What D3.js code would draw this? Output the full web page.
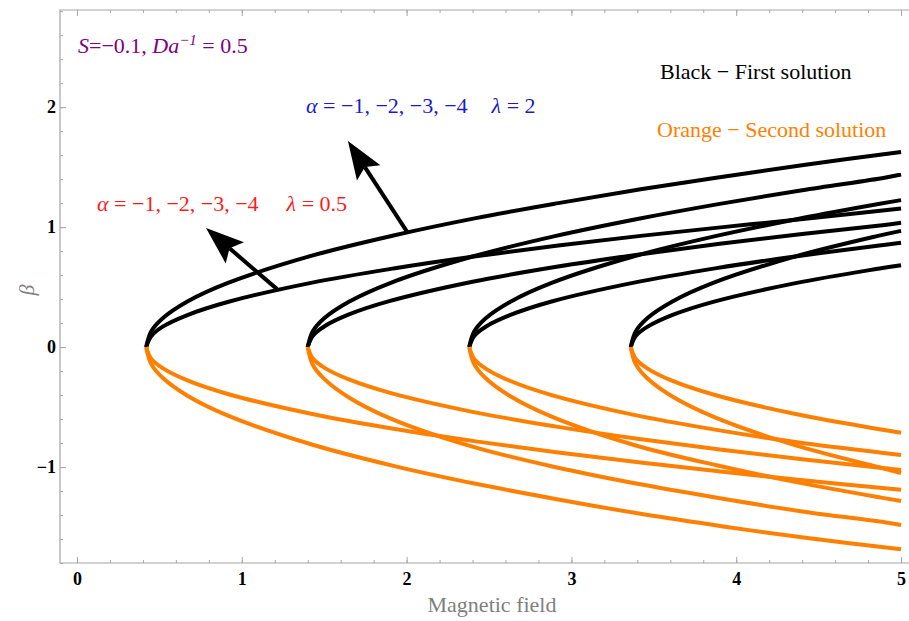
<!DOCTYPE html>
<html>
<head>
<meta charset="utf-8">
<script src="https://cdn.jsdelivr.net/npm/d3@7"></script>
<style>
  body { margin: 0; background: #fff; }
  text { font-family: "Liberation Serif", "Times New Roman", serif; }
</style>
</head>
<body>
<svg></svg>
<script>
var width = 909;
var height = 621;

// first solution (black) branches, [magnetic field, beta]
var upperA1L2 = [[0.42,0],[0.45,0.13],[0.52,0.24],[0.67,0.38],[0.92,0.537],[1.42,0.76],[1.92,0.93],[2.42,1.075],[2.92,1.2],[3.42,1.316],[3.92,1.42],[4.42,1.52],[5,1.627]];
var upperA1L05 = [[0.42,0],[0.45,0.09],[0.52,0.17],[0.67,0.267],[0.92,0.378],[1.42,0.535],[1.92,0.655],[2.42,0.757],[2.92,0.846],[3.42,0.927],[3.92,1.0],[4.42,1.07],[5,1.156]];
var upperA2L2 = [[1.4,0],[1.43,0.13],[1.5,0.24],[1.65,0.378],[1.9,0.534],[2.4,0.755],[2.9,0.925],[3.4,1.068],[3.9,1.194],[4.4,1.308],[4.9,1.412],[5,1.439]];
var upperA2L05 = [[1.4,0],[1.43,0.093],[1.5,0.172],[1.65,0.272],[1.9,0.385],[2.4,0.545],[2.9,0.667],[3.4,0.77],[3.9,0.861],[4.4,0.943],[4.9,1.018],[5,1.036]];
var upperA3L2 = [[2.38,0],[2.41,0.13],[2.48,0.24],[2.63,0.378],[2.88,0.535],[3.38,0.757],[3.88,0.927],[4.38,1.07],[4.88,1.197],[5,1.225]];
var upperA3L05 = [[2.38,0],[2.41,0.093],[2.48,0.17],[2.63,0.268],[2.88,0.38],[3.38,0.537],[3.88,0.658],[4.38,0.76],[4.88,0.849],[5,0.869]];
var upperA4L2 = [[3.36,0],[3.39,0.13],[3.46,0.24],[3.61,0.378],[3.86,0.535],[4.36,0.756],[4.86,0.927],[5,0.969]];
var upperA4L05 = [[3.36,0],[3.39,0.092],[3.46,0.168],[3.61,0.266],[3.86,0.377],[4.36,0.533],[4.86,0.653],[5,0.683]];

// second solution (orange) branches
var lowerA1a = [[0.42,0],[0.45,-0.096],[0.52,-0.176],[0.67,-0.278],[0.92,-0.393],[1.42,-0.556],[1.92,-0.681],[2.42,-0.786],[2.92,-0.879],[3.42,-0.963],[3.92,-1.04],[4.42,-1.112],[5,-1.19]];
var lowerA1b = [[0.42,0],[0.45,-0.14],[0.52,-0.256],[0.67,-0.405],[0.92,-0.573],[1.42,-0.81],[1.92,-0.99],[2.42,-1.14],[2.92,-1.27],[3.42,-1.39],[3.92,-1.495],[4.42,-1.59],[5,-1.686]];
var lowerA2a = [[1.4,0],[1.43,-0.093],[1.5,-0.171],[1.65,-0.27],[1.9,-0.382],[2.4,-0.54],[2.9,-0.661],[3.4,-0.764],[3.9,-0.854],[4.4,-0.935],[4.9,-1.01],[5,-1.025]];
var lowerA2b = [[1.4,0],[1.43,-0.145],[1.5,-0.265],[1.65,-0.42],[1.9,-0.594],[2.4,-0.83],[2.9,-1.0],[3.4,-1.14],[3.9,-1.26],[4.4,-1.37],[4.9,-1.46],[5,-1.483]];
var lowerA3a = [[2.38,0],[2.41,-0.098],[2.48,-0.179],[2.63,-0.283],[2.88,-0.4],[3.38,-0.565],[3.88,-0.69],[4.38,-0.795],[4.88,-0.88],[5,-0.9]];
var lowerA3b = [[2.38,0],[2.41,-0.142],[2.48,-0.26],[2.63,-0.41],[2.88,-0.58],[3.38,-0.816],[3.88,-0.985],[4.38,-1.13],[4.88,-1.255],[5,-1.283]];
var lowerA4a = [[3.36,0],[3.39,-0.097],[3.46,-0.177],[3.61,-0.28],[3.86,-0.395],[4.36,-0.558],[4.86,-0.683],[5,-0.714]];
var lowerA4b = [[3.36,0],[3.39,-0.142],[3.46,-0.26],[3.61,-0.41],[3.86,-0.58],[4.36,-0.82],[4.86,-1.0],[5,-1.05]];

var blackCurves = [upperA1L2, upperA1L05, upperA2L2, upperA2L05, upperA3L2, upperA3L05, upperA4L2, upperA4L05];
var orangeCurves = [lowerA1a, lowerA1b, lowerA2a, lowerA2b, lowerA3a, lowerA3b, lowerA4a, lowerA4b];

// arrows: [tail, tip]
var arrowL05 = [[1.214, 0.483], [0.783, 0.992]];
var arrowL2 = [[2.008, 0.95], [1.644, 1.717]];

var xTicks = [0, 1, 2, 3, 4, 5];
var yTicks = [-1, 0, 1, 2];

var orange = '#ff8000';
var axisGrey = '#a6a6a6';

var svg = d3.select('svg')
    .attr('width', width)
    .attr('height', height);

var x = d3.scaleLinear().domain([-0.103, 5.03]).range([60, 906]);
var y = d3.scaleLinear().domain([-1.8, 2.81]).range([563, 10]);

var minorX = d3.range(0, 5.01, 0.2);
var minorY = d3.range(-1.8, 2.81, 0.2).map(function (v) { return Math.round(v * 10) / 10; });

// frame lines (left, bottom, top; right edge is cut off)
svg.append('path')
    .attr('d', 'M909,10H60V563H909')
    .attr('fill', 'none')
    .attr('stroke', axisGrey)
    .attr('stroke-width', 1.2);

function styleAxis(g) {
    g.select('.domain').remove();
    g.selectAll('.tick line').attr('stroke', axisGrey);
    g.selectAll('.tick text')
        .attr('fill', '#000')
        .attr('font-weight', 'bold')
        .attr('font-size', 18)
        .attr('font-family', '"Liberation Serif", serif');
}

// bottom
svg.append('g').attr('transform', 'translate(0,563)')
    .call(d3.axisBottom(x).tickValues(minorX).tickSize(-3).tickFormat(''))
    .call(styleAxis);
svg.append('g').attr('transform', 'translate(0,563)')
    .call(d3.axisBottom(x).tickValues(xTicks).tickSize(-6).tickPadding(9).tickFormat(d3.format('d')))
    .call(styleAxis);
// left
svg.append('g').attr('transform', 'translate(60,0)')
    .call(d3.axisLeft(y).tickValues(minorY).tickSize(-3).tickFormat(''))
    .call(styleAxis);
svg.append('g').attr('transform', 'translate(60,0)')
    .call(d3.axisLeft(y).tickValues(yTicks).tickSize(-6).tickPadding(4).tickFormat(d3.format('d')))
    .call(styleAxis);
// top
svg.append('g').attr('transform', 'translate(0,10)')
    .call(d3.axisTop(x).tickValues(minorX).tickSize(-3).tickFormat(''))
    .call(styleAxis);
svg.append('g').attr('transform', 'translate(0,10)')
    .call(d3.axisTop(x).tickValues(xTicks).tickSize(-6).tickFormat(''))
    .call(styleAxis);

// axis labels
svg.append('text')
    .attr('x', 492).attr('y', 612)
    .attr('text-anchor', 'middle')
    .attr('font-size', 22)
    .attr('fill', '#7f7f7f')
    .text('Magnetic field');

svg.append('text')
    .attr('transform', 'translate(34,290) rotate(-90)')
    .attr('text-anchor', 'middle')
    .attr('font-size', 22)
    .attr('font-style', 'italic')
    .attr('fill', '#7f7f7f')
    .text('β');

// curves
var line = d3.line()
    .x(function (d) { return x(d[0]); })
    .y(function (d) { return y(d[1]); })
    .curve(d3.curveCatmullRom.alpha(0.5));

svg.append('g').selectAll('path')
    .data(blackCurves)
    .enter()
    .append('path')
    .attr('d', line)
    .attr('fill', 'none')
    .attr('stroke', '#000')
    .attr('stroke-width', 4);

svg.append('g').selectAll('path')
    .data(orangeCurves)
    .enter()
    .append('path')
    .attr('d', line)
    .attr('fill', 'none')
    .attr('stroke', orange)
    .attr('stroke-width', 4);

// arrows
function drawArrow(a) {
    var x0 = x(a[0][0]), y0 = y(a[0][1]);
    var x1 = x(a[1][0]), y1 = y(a[1][1]);
    var dx = x1 - x0, dy = y1 - y0;
    var len = Math.sqrt(dx * dx + dy * dy);
    var ux = dx / len, uy = dy / len;
    var px = -uy, py = ux;
    var L = 38, W = 14, N = 31;
    svg.append('line')
        .attr('x1', x0).attr('y1', y0)
        .attr('x2', x1 - ux * N).attr('y2', y1 - uy * N)
        .attr('stroke', '#000')
        .attr('stroke-width', 4);
    var pts = [
        [x1, y1],
        [x1 - ux * L + px * W, y1 - uy * L + py * W],
        [x1 - ux * N, y1 - uy * N],
        [x1 - ux * L - px * W, y1 - uy * L - py * W]
    ];
    svg.append('path')
        .attr('d', 'M' + pts.map(function (p) { return p[0] + ',' + p[1]; }).join('L') + 'Z')
        .attr('fill', '#000');
}
drawArrow(arrowL05);
drawArrow(arrowL2);

// annotations
var t1 = svg.append('text').attr('x', 78).attr('y', 53).attr('font-size', 22).attr('fill', '#800080');
t1.append('tspan').attr('font-style', 'italic').text('S');
t1.append('tspan').text('=−0.1, ');
t1.append('tspan').attr('font-style', 'italic').text('Da');
t1.append('tspan').attr('font-style', 'italic').attr('font-size', 15).attr('dy', -8).text('−1');
t1.append('tspan').attr('dy', 8).text(' = 0.5');

function alphaLabel(xp, yp, color, lam, gap) {
    var t = svg.append('text').attr('x', xp).attr('y', yp).attr('font-size', 22).attr('fill', color);
    t.append('tspan').attr('font-style', 'italic').text('α');
    t.append('tspan').text(' = −1, −2, −3, −4');
    t.append('tspan').attr('dx', gap).attr('font-style', 'italic').text('λ');
    t.append('tspan').text(' = ' + lam);
}
alphaLabel(306, 113, '#1a1acc', '2', 24);
alphaLabel(97, 211, '#ff1a1a', '0.5', 28);

svg.append('text').attr('x', 660).attr('y', 79).attr('font-size', 22).attr('fill', '#000')
    .text('Black − First solution');
svg.append('text').attr('x', 657).attr('y', 137).attr('font-size', 22).attr('fill', orange)
    .text('Orange − Second solution');
</script>
</body>
</html>
